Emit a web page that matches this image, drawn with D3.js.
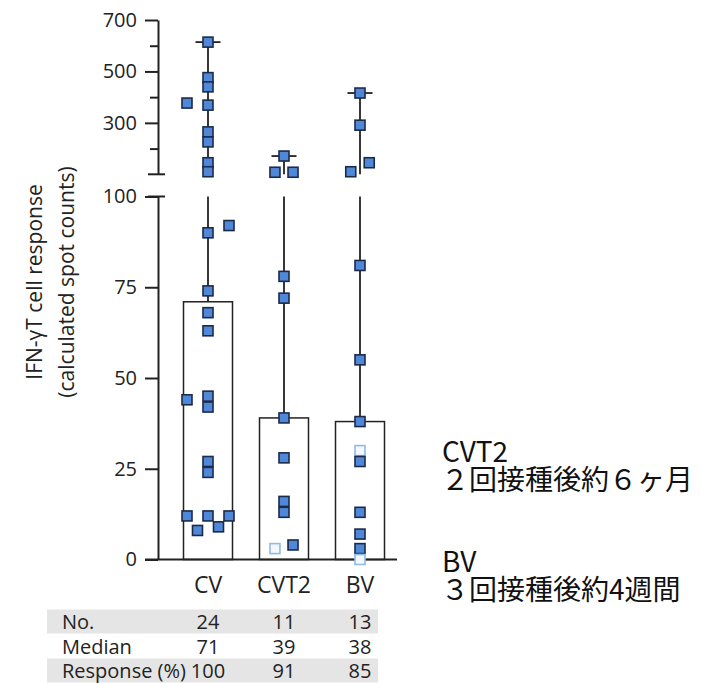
<!DOCTYPE html>
<html><head><meta charset="utf-8">
<script src="https://cdn.jsdelivr.net/npm/d3@7/dist/d3.min.js"></script>
<style>
body{margin:0;background:#fff;}
svg{display:block;}
text{font-family:"Open Sans","Noto Sans",sans-serif;fill:#222;}
.jp{font-family:"Noto Sans CJK JP","Noto Sans",sans-serif;fill:#111;}
</style></head>
<body>
<script>
// ---- data ----
const categories = ["CV", "CVT2", "BV"];
const medians = [71, 39, 38];
const cvValues  = [614, 476, 440, 377, 369, 265, 226, 145, 110, 92, 90, 74, 68, 63, 45, 44, 42, 27, 24, 12, 12, 12, 9, 8];
const cvLanes   = [0, 0, 0, -2, 0, 0, 0, 0, 0, 2, 0, 0, 0, 0, 0, -2, 0, 0, 0, -2, 0, 2, 1, -1];
const cvResp    = cvValues.map(() => true);
const cvt2Values = [171, 108, 108, 78, 72, 39, 28, 16, 13, 4, 3];
const cvt2Lanes  = [0, -0.86, 0.86, 0, 0, 0, 0, 0, 0, 0.86, -0.86];
const cvt2Resp   = [true, true, true, true, true, true, true, true, true, true, false];
const bvValues = [416, 291, 145, 110, 81, 55, 38, 30, 27, 13, 7, 3, 0];
const bvLanes  = [0, 0, 0.88, -0.88, 0, 0, 0, 0, 0, 0, 0, 0, 0];
const bvResp   = [true, true, true, true, true, true, true, false, true, true, true, true, false];
const lowerTicks = [0, 25, 50, 75, 100];
const upperTicks = [300, 500, 700];
const upperMinorTicks = [200, 400, 600];
const tableRows = ["No.", "Median", "Response (%)"];
const tableNo = [24, 11, 13];
const tableMedian = [71, 39, 38];
const tableResponse = [100, 91, 85];
const titleLines = ["IFN-\u03b3T cell response", "(calculated spot counts)"];
const notes = [["CVT2", "２回接種後約６ヶ月"], ["BV", "３回接種後約4週間"]];

const groups = [
  {vals: cvValues, lanes: cvLanes, resp: cvResp},
  {vals: cvt2Values, lanes: cvt2Lanes, resp: cvt2Resp},
  {vals: bvValues, lanes: bvLanes, resp: bvResp}
];

// ---- layout ----
const W = 701, H = 683;
const svg = d3.select("body").append("svg").attr("width", W).attr("height", H);
const axisX = 158;
const x = d3.scalePoint().domain(categories).range([208, 360]);
const yL = d3.scaleLinear().domain([0, 100]).range([559.5, 196.5]);
const yU = d3.scaleLinear().domain([100, 700]).range([174.3, 20]);
const yv = v => v > 100 ? yU(v) : yL(v);
const laneW = 10.5;
const barW = 49, capW = 25, mk = 10;
const ink = "#222";

// whiskers (max to min, broken at the axis gap)
groups.forEach((g, i) => {
  const cx = x(categories[i]);
  const mx = d3.max(g.vals), mn = d3.min(g.vals);
  if (mx > 100) {
    svg.append("line").attr("x1", cx).attr("x2", cx).attr("y1", yU(mx)).attr("y2", yU(100))
      .attr("stroke", ink).attr("stroke-width", 1.8);
    svg.append("line").attr("x1", cx).attr("x2", cx).attr("y1", yL(100)).attr("y2", yL(mn))
      .attr("stroke", ink).attr("stroke-width", 1.8);
  } else {
    svg.append("line").attr("x1", cx).attr("x2", cx).attr("y1", yL(mx)).attr("y2", yL(mn))
      .attr("stroke", ink).attr("stroke-width", 1.8);
  }
  svg.append("line").attr("x1", cx - capW/2).attr("x2", cx + capW/2).attr("y1", yv(mx)).attr("y2", yv(mx))
    .attr("stroke", ink).attr("stroke-width", 1.8);
});

// bars (median)
svg.selectAll("rect.bar").data(medians).enter().append("rect")
  .attr("x", (d, i) => x(categories[i]) - barW/2)
  .attr("y", d => yL(d))
  .attr("width", barW)
  .attr("height", d => yL(0) - yL(d))
  .attr("fill", "#fff").attr("stroke", ink).attr("stroke-width", 1.5);

// axes
const gL = svg.append("g").attr("transform", `translate(${axisX},0)`)
  .call(d3.axisLeft(yL).tickValues(lowerTicks).tickSize(13).tickPadding(8).tickSizeOuter(0));
const gU = svg.append("g").attr("transform", `translate(${axisX},0)`)
  .call(d3.axisLeft(yU).tickValues(upperTicks).tickSize(13).tickPadding(8).tickSizeOuter(0));
const gUm = svg.append("g").attr("transform", `translate(${axisX},0)`)
  .call(d3.axisLeft(yU).tickValues(upperMinorTicks).tickSize(8).tickFormat("").tickSizeOuter(0));
[gL, gU, gUm].forEach(g => {
  g.selectAll("path,line").attr("stroke", ink).attr("stroke-width", 2);
  g.selectAll("text").attr("font-size", 20).attr("fill", ink)
    .attr("font-family", "'Open Sans','Noto Sans',sans-serif");
});
gUm.select("path").remove();
// break marks
[yU(100), yL(100)].forEach(yy => {
  svg.append("line").attr("x1", axisX - 10).attr("x2", axisX + 7).attr("y1", yy).attr("y2", yy)
    .attr("stroke", ink).attr("stroke-width", 2);
});
// baseline
svg.append("line").attr("x1", axisX - 13).attr("x2", 397).attr("y1", yL(0)).attr("y2", yL(0))
  .attr("stroke", ink).attr("stroke-width", 2);

// points
groups.forEach((g, i) => {
  const cx = x(categories[i]);
  const pts = g.vals.map((v, j) => ({v, lane: g.lanes[j], r: g.resp[j]}));
  svg.append("g").selectAll("rect").data(pts).enter().append("rect")
    .attr("x", d => cx + d.lane * laneW - mk/2)
    .attr("y", d => yv(d.v) - mk/2)
    .attr("width", mk).attr("height", mk)
    .attr("fill", d => d.r ? "#4f88d8" : "#f4f8fd")
    .attr("stroke", d => d.r ? "#1c2a48" : "#8fbbe6")
    .attr("stroke-width", 1.6);
});

// category labels
svg.selectAll("text.cat").data(categories).enter().append("text")
  .attr("x", d => x(d)).attr("y", 593)
  .attr("text-anchor", "middle").attr("font-size", 23).text(d => d);

// y title
titleLines.forEach((t, i) => {
  svg.append("text").attr("transform", `translate(${[42, 74][i]},282) rotate(-90)`)
    .attr("text-anchor", "middle").attr("font-size", 21).text(t);
});

// table
const tableVals = [tableNo, tableMedian, tableResponse];
const rowY = [621.5, 646.5, 670.5];
[0, 2].forEach(r => {
  svg.append("rect").attr("x", 47).attr("y", rowY[r] - 12).attr("width", 331).attr("height", 24)
    .attr("fill", "#e5e5e5");
});
tableRows.forEach((name, r) => {
  svg.append("text").attr("x", 62).attr("y", rowY[r]).attr("dy", "0.36em")
    .attr("font-size", 20).text(name);
  tableVals[r].forEach((v, c) => {
    svg.append("text").attr("x", x(categories[c])).attr("y", rowY[r]).attr("dy", "0.36em")
      .attr("text-anchor", "middle").attr("font-size", 20).text(v);
  });
});

// annotations
notes.forEach((n, i) => {
  const by = [462, 572][i];
  svg.append("text").attr("class", "jp").attr("x", 442).attr("y", by).attr("font-size", 28).text(n[0]);
  svg.append("text").attr("class", "jp").attr("x", 441).attr("y", by + 28).attr("font-size", 28).text(n[1]);
});
</script>
</body></html>
